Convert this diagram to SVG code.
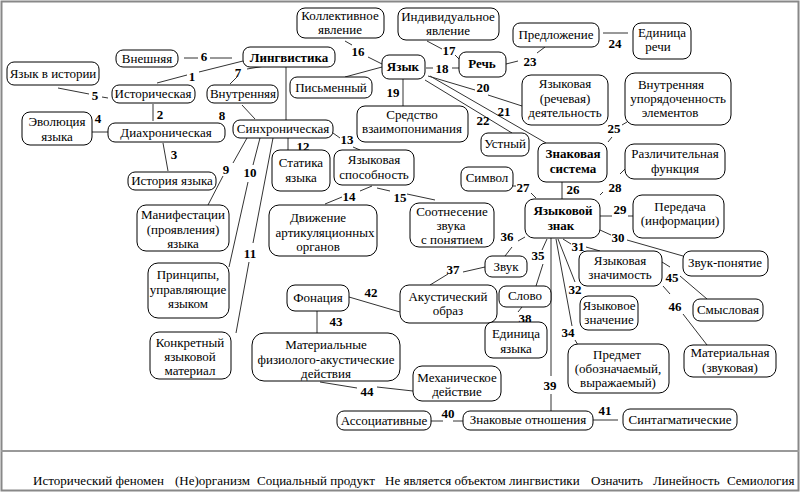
<svg xmlns="http://www.w3.org/2000/svg" width="800" height="492" viewBox="0 0 800 492" font-family="'Liberation Serif', 'DejaVu Serif', serif">
<style>
.b{fill:#fff;stroke:#000;stroke-width:1}
.t{font-family:'Liberation Serif','DejaVu Serif',serif;font-size:13px;fill:#000;text-anchor:middle}
.bt{font-weight:bold}
.n{font-family:'Liberation Serif','DejaVu Serif',serif;font-size:13px;font-weight:bold;fill:#000;text-anchor:middle}
.c{stroke:#333;stroke-width:1;fill:none}
.bl{font-family:'Liberation Serif','DejaVu Serif',serif;font-size:13px;fill:#000}
</style>
<rect x="0" y="0" width="800" height="492" fill="#fff"/>
<rect x="1.5" y="1.5" width="797" height="489" fill="none" stroke="#888" stroke-width="2"/>
<line x1="1" y1="451" x2="799" y2="451" stroke="#999" stroke-width="2"/>

<g id="connectors">
<path class="c" d="M157,83 L187,75 M199,72 L243,61"/>
<path class="c" d="M153,104 L153,121"/>
<path class="c" d="M163,143 L168,171"/>
<path class="c" d="M92,132 L108,132"/>
<path class="c" d="M58,88 L89,94 M102,97 L108,98"/>
<path class="c" d="M184,58 L198,58 M210,58 L232,58"/>
<path class="c" d="M230,84 L237,77 M247,69 L265,66"/>
<path class="c" d="M242,105 L255,119"/>
<path class="c" d="M247,138 L233,163 M223,176 L208,205"/>
<path class="c" d="M260,138 L253,165 M248,182 L229,267"/>
<path class="c" d="M273,138 L253,243 M249,262 L236,333"/>
<path class="c" d="M288,138 L288,150"/>
<path class="c" d="M333,133 L340,138 M353,147 L360,150"/>
<path class="c" d="M372,186 L360,191 M342,197 L325,204"/>
<path class="c" d="M377,188 L390,191 M407,194 L435,200"/>
<path class="c" d="M345,41 L352,45 M368,57 L382,64"/>
<path class="c" d="M427,41 L442,49 M455,55 L460,60"/>
<path class="c" d="M426,68 L433,68 M452,68 L459,68"/>
<path class="c" d="M403,79 L403,106"/>
<path class="c" d="M428,76 L475,90 M488,95 L522,106"/>
<path class="c" d="M430,76 L546,143"/>
<path class="c" d="M425,80 L512,133"/>
<path class="c" d="M506,64 L518,61 M537,53 L545,47"/>
<path class="c" d="M603,33 L628,33"/>
<path class="c" d="M608,142 L612,137 M622,125 L627,122"/>
<path class="c" d="M562,182 L562,199"/>
<path class="c" d="M511,186 L516,186 M531,193 L536,198"/>
<path class="c" d="M600,195 L603,192 M620,174 L626,168"/>
<path class="c" d="M600,216 L612,216 M628,216 L633,216"/>
<path class="c" d="M600,230 L611,235 M627,240 L683,256"/>
<path class="c" d="M563,239 L571,244 M586,247 L600,251"/>
<path class="c" d="M558,239 L575,282"/>
<path class="c" d="M556,239 L572,326 M575,340 L578,345"/>
<path class="c" d="M547,239 L542,250 M543,264 L536,286"/>
<path class="c" d="M525,237 L518,241 M512,247 L505,256"/>
<path class="c" d="M485,267 L463,272 M448,274 L430,285"/>
<path class="c" d="M522,307 L518,312"/>
<path class="c" d="M551,238 L551,376 M551,394 L551,411"/>
<path class="c" d="M431,421 L443,421 M453,421 L463,421"/>
<path class="c" d="M593,420 L618,420"/>
<path class="c" d="M349,297 L400,312"/>
<path class="c" d="M317,311 L317,333"/>
<path class="c" d="M320,382 L357,388 M377,387 L413,391"/>
<path class="c" d="M662,262 L670,267 M680,276 L707,299"/>
<path class="c" d="M663,286 L670,294 M683,314 L707,345"/>
<path class="c" d="M286,67 L286,120"/>
<path class="c" d="M345,77 L382,67"/>
<text class="n" x="192" y="81">1</text>
<text class="n" x="160" y="119">2</text>
<text class="n" x="174" y="159">3</text>
<text class="n" x="98" y="123">4</text>
<text class="n" x="95" y="100">5</text>
<text class="n" x="204" y="61">6</text>
<text class="n" x="238" y="77">7</text>
<text class="n" x="222" y="120">8</text>
<text class="n" x="226" y="174">9</text>
<text class="n" x="250" y="177">10</text>
<text class="n" x="250" y="258">11</text>
<text class="n" x="303" y="151">12</text>
<text class="n" x="347" y="144">13</text>
<text class="n" x="349" y="201">14</text>
<text class="n" x="400" y="202">15</text>
<text class="n" x="358" y="56">16</text>
<text class="n" x="449" y="55">17</text>
<text class="n" x="442" y="73">18</text>
<text class="n" x="393" y="97">19</text>
<text class="n" x="483" y="92">20</text>
<text class="n" x="504" y="116">21</text>
<text class="n" x="483" y="125">22</text>
<text class="n" x="530" y="66">23</text>
<text class="n" x="615" y="48">24</text>
<text class="n" x="614" y="133">25</text>
<text class="n" x="573" y="194">26</text>
<text class="n" x="523" y="192">27</text>
<text class="n" x="615" y="192">28</text>
<text class="n" x="620" y="214">29</text>
<text class="n" x="618" y="242">30</text>
<text class="n" x="578" y="251">31</text>
<text class="n" x="575" y="294">32</text>
<text class="n" x="568" y="337">34</text>
<text class="n" x="538" y="260">35</text>
<text class="n" x="507" y="241">36</text>
<text class="n" x="453" y="274">37</text>
<text class="n" x="525" y="323">38</text>
<text class="n" x="550" y="390">39</text>
<text class="n" x="448" y="418">40</text>
<text class="n" x="605" y="415">41</text>
<text class="n" x="371" y="297">42</text>
<text class="n" x="336" y="326">43</text>
<text class="n" x="367" y="396">44</text>
<text class="n" x="672" y="282">45</text>
<text class="n" x="675" y="311">46</text>
</g>

<g id="n_vneshnyaya"><rect class="b" x="116" y="50" width="62" height="17" rx="7"/><text class="t" x="147" y="63">Внешняя</text></g>
<g id="n_lingvistika"><rect class="b" x="243" y="47" width="92" height="20" rx="7"/><text class="t bt" x="289" y="62">Лингвистика</text></g>
<g id="n_yazyk_v_istorii"><rect class="b" x="7" y="62" width="92" height="23" rx="7"/><text class="t" x="53" y="78">Язык в истории</text></g>
<g id="n_istoricheskaya"><rect class="b" x="112" y="85" width="83" height="18" rx="7"/><text class="t" x="153" y="98">Историческая</text></g>
<g id="n_diachronicheskaya"><rect class="b" x="108" y="123" width="117" height="19" rx="7"/><text class="t" x="166" y="137">Диахроническая</text></g>
<g id="n_evolyuciya"><rect class="b" x="22" y="112" width="70" height="33" rx="8"/><text class="t" x="57" y="126">Эволюция</text><text class="t" x="57" y="141">языка</text></g>
<g id="n_istoriya_yazyka"><rect class="b" x="128" y="172" width="88" height="18" rx="7"/><text class="t" x="172" y="185">История языка</text></g>
<g id="n_vnutrennyaya"><rect class="b" x="207" y="85" width="71" height="18" rx="7"/><text class="t" x="243" y="98">Внутренняя</text></g>
<g id="n_sinkhronicheskaya"><rect class="b" x="233" y="120" width="100" height="18" rx="7"/><text class="t" x="283" y="133">Синхроническая</text></g>
<g id="n_pismenny"><rect class="b" x="290" y="77" width="82" height="21" rx="7"/><text class="t" x="331" y="92">Письменный</text></g>
<g id="n_kollektivnoe"><rect class="b" x="297" y="8" width="87" height="30" rx="8"/><text class="t" x="340" y="20">Коллективное</text><text class="t" x="340" y="34">явление</text></g>
<g id="n_yazyk"><rect class="b" x="382" y="55" width="43" height="24" rx="7"/><text class="t bt" x="403" y="71">Язык</text></g>
<g id="n_individualnoe"><rect class="b" x="398" y="8" width="101" height="32" rx="8"/><text class="t" x="448" y="21">Индивидуальное</text><text class="t" x="448" y="35">явление</text></g>
<g id="n_rech"><rect class="b" x="459" y="52" width="47" height="25" rx="7"/><text class="t bt" x="482" y="68">Речь</text></g>
<g id="n_predlozhenie"><rect class="b" x="513" y="23" width="86" height="24" rx="7"/><text class="t" x="556" y="39">Предложение</text></g>
<g id="n_edinica_rechi"><rect class="b" x="633" y="23" width="58" height="36" rx="8"/><text class="t" x="662" y="37">Единица</text><text class="t" x="658" y="51">речи</text></g>
<g id="n_sredstvo"><rect class="b" x="357" y="106" width="111" height="36" rx="8"/><text class="t" x="412" y="119">Средство</text><text class="t" x="412" y="133">взаимопонимания</text></g>
<g id="n_yaz_deyat"><rect class="b" x="522" y="75" width="86" height="50" rx="9"/><text class="t" x="565" y="88">Языковая</text><text class="t" x="565" y="103">(речевая)</text><text class="t" x="565" y="117">деятельность</text></g>
<g id="n_ustny"><rect class="b" x="481" y="133" width="48" height="23" rx="7"/><text class="t" x="505" y="148">Устный</text></g>
<g id="n_znak_sistema"><rect class="b" x="538" y="143" width="69" height="39" rx="8"/><text class="t bt" x="573" y="158">Знаковая</text><text class="t bt" x="573" y="173">система</text></g>
<g id="n_vnutr_upor"><rect class="b" x="625" y="73" width="106" height="52" rx="10"/><text class="t" x="671" y="89">Внутренняя</text><text class="t" x="678" y="103">упорядоченность</text><text class="t" x="670" y="117">элементов</text></g>
<g id="n_razlichitelnaya"><rect class="b" x="625" y="144" width="100" height="35" rx="9"/><text class="t" x="675" y="158">Различительная</text><text class="t" x="675" y="173">функция</text></g>
<g id="n_statika"><rect class="b" x="272" y="150" width="58" height="41" rx="8"/><text class="t" x="301" y="167">Статика</text><text class="t" x="301" y="182">языка</text></g>
<g id="n_yaz_sposobnost"><rect class="b" x="334" y="150" width="80" height="35" rx="8"/><text class="t" x="374" y="164">Языковая</text><text class="t" x="374" y="179">способность</text></g>
<g id="n_simvol"><rect class="b" x="461" y="167" width="52" height="24" rx="7"/><text class="t" x="487" y="182">Символ</text></g>
<g id="n_yaz_znak"><rect class="b" x="525" y="199" width="75" height="39" rx="9"/><text class="t bt" x="563" y="215">Языковой</text><text class="t bt" x="561" y="230">знак</text></g>
<g id="n_peredacha"><rect class="b" x="633" y="195" width="91" height="43" rx="9"/><text class="t" x="680" y="211">Передача</text><text class="t" x="680" y="225">(информации)</text></g>
<g id="n_dvizhenie"><rect class="b" x="269" y="205" width="108" height="51" rx="10"/><text class="t" x="318" y="222">Движение</text><text class="t" x="325" y="237">артикуляционных</text><text class="t" x="318" y="251">органов</text></g>
<g id="n_sootnesenie"><rect class="b" x="410" y="203" width="84" height="44" rx="9"/><text class="t" x="452" y="216">Соотнесение</text><text class="t" x="451" y="230">звука</text><text class="t" x="452" y="244">с понятием</text></g>
<g id="n_manifestacii"><rect class="b" x="137" y="205" width="92" height="46" rx="9"/><text class="t" x="183" y="219">Манифестации</text><text class="t" x="183" y="233.5">(проявления)</text><text class="t" x="183" y="247.5">языка</text></g>
<g id="n_principy"><rect class="b" x="148" y="263" width="81" height="55" rx="10"/><text class="t" x="188" y="279">Принципы,</text><text class="t" x="188" y="294">управляющие</text><text class="t" x="188" y="308">языком</text></g>
<g id="n_konkretny"><rect class="b" x="150" y="332" width="81" height="47" rx="9"/><text class="t" x="190" y="347">Конкретный</text><text class="t" x="190" y="361">языковой</text><text class="t" x="190" y="375">материал</text></g>
<g id="n_zvuk"><rect class="b" x="485" y="256" width="42" height="21" rx="7"/><text class="t" x="506" y="271">Звук</text></g>
<g id="n_zvuk_ponyatie"><rect class="b" x="683" y="251" width="85" height="25" rx="8"/><text class="t" x="725" y="267">Звук-понятие</text></g>
<g id="n_yaz_znachimost"><rect class="b" x="579" y="251" width="83" height="35" rx="8"/><text class="t" x="620" y="265">Языковая</text><text class="t" x="620" y="279">значимость</text></g>
<g id="n_fonaciya"><rect class="b" x="287" y="285" width="62" height="26" rx="8"/><text class="t" x="318" y="302">Фонация</text></g>
<g id="n_akustichesky"><rect class="b" x="400" y="285" width="97" height="38" rx="9"/><text class="t" x="448" y="301">Акустический</text><text class="t" x="448" y="315">образ</text></g>
<g id="n_slovo"><rect class="b" x="499" y="286" width="52" height="21" rx="7"/><text class="t" x="525" y="300">Слово</text></g>
<g id="n_smyslovaya"><rect class="b" x="693" y="299" width="70" height="22" rx="7"/><text class="t" x="728" y="314">Смысловая</text></g>
<g id="n_yaz_znachenie"><rect class="b" x="580" y="296" width="58" height="34" rx="8"/><text class="t" x="609" y="310">Языковое</text><text class="t" x="609" y="324">значение</text></g>
<g id="n_edinica_yazyka"><rect class="b" x="485" y="322" width="62" height="36" rx="8"/><text class="t" x="516" y="338">Единица</text><text class="t" x="516" y="353">языка</text></g>
<g id="n_predmet"><rect class="b" x="568" y="344" width="101" height="49" rx="10"/><text class="t" x="617" y="359">Предмет</text><text class="t" x="618" y="373">(обозначаемый,</text><text class="t" x="618" y="387">выражаемый)</text></g>
<g id="n_materialnaya"><rect class="b" x="684" y="345" width="92" height="32" rx="9"/><text class="t" x="730" y="357">Материальная</text><text class="t" x="730" y="372">(звуковая)</text></g>
<g id="n_materialnye"><rect class="b" x="252" y="333" width="148" height="48" rx="12"/><text class="t" x="326" y="349">Материальные</text><text class="t" x="326" y="364">физиолого-акустические</text><text class="t" x="326" y="378">действия</text></g>
<g id="n_mekhanicheskoe"><rect class="b" x="413" y="366" width="88" height="35" rx="9"/><text class="t" x="457" y="382">Механическое</text><text class="t" x="457" y="396">действие</text></g>
<g id="n_associativnye"><rect class="b" x="337" y="411" width="94" height="19" rx="7"/><text class="t" x="384" y="425">Ассоциативные</text></g>
<g id="n_znak_otnosheniya"><rect class="b" x="463" y="411" width="130" height="19" rx="7"/><text class="t" x="528" y="424">Знаковые отношения</text></g>
<g id="n_sintagmaticheskie"><rect class="b" x="623" y="409" width="114" height="21" rx="7"/><text class="t" x="680" y="424">Синтагматические</text></g>

<g id="bottom_row">
<text class="bl" x="33" y="485">Исторический феномен</text>
<text class="bl" x="175" y="485">(Не)организм</text>
<text class="bl" x="257" y="485">Социальный продукт</text>
<text class="bl" x="385" y="485">Не является объектом лингвистики</text>
<text class="bl" x="591" y="485">Означить</text>
<text class="bl" x="653" y="485">Линейность</text>
<text class="bl" x="727" y="485">Семиология</text>
</g>
</svg>
